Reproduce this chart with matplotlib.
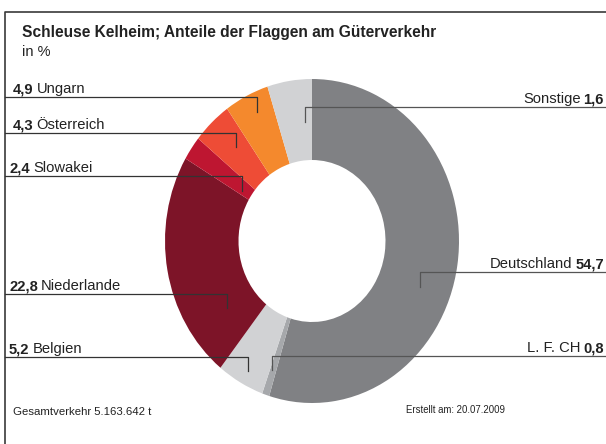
import matplotlib
matplotlib.use('Agg')
import matplotlib.pyplot as plt

plt.rcParams['font.family'] = ['Liberation Sans', 'DejaVu Sans']

# Slices clockwise from 12 o'clock, as drawn in the picture
names = ['Deutschland', 'L. F. CH', 'Belgien', 'Niederlande',
         'Slowakei', 'Österreich', 'Ungarn', 'Sonstige']
shares = [54.7, 0.8, 5.2, 22.8, 2.4, 4.3, 4.9, 4.9]
# numbers printed on the labels
label_values = ['54,7', '0,8', '5,2', '22,8', '2,4', '4,3', '4,9', '1,6']
colors = ['#808184', '#a6a8ab', '#d1d2d4', '#7d1428',
          '#be1631', '#ee4c36', '#f4892d', '#d1d2d4']

W, H = 606, 444
fig = plt.figure(figsize=(W / 100, H / 100), dpi=100)

# donut (slightly taller than wide, like the reference)
cx, cy, rx, ry = 312, 241, 147, 162
pax = fig.add_axes([(cx - rx) / W, (H - cy - ry) / H, 2 * rx / W, 2 * ry / H])
pax.pie(shares, colors=colors, startangle=90, counterclock=False, radius=1,
        wedgeprops=dict(width=0.5, linewidth=0))
pax.set_aspect('auto')
pax.set_xlim(-1, 1)
pax.set_ylim(-1, 1)
pax.set_zorder(1)

# overlay in pixel coordinates for frame, text and leader lines
ax = fig.add_axes([0, 0, 1, 1])
ax.set_xlim(0, W)
ax.set_ylim(H, 0)
ax.axis('off')
ax.patch.set_visible(False)
ax.set_zorder(2)

ax.plot([5, 5, W], [H, 12, 12], color='#3a3a3a', lw=1.2, solid_capstyle='butt')

ax.text(22, 37, 'Schleuse Kelheim; Anteile der Flaggen am Güterverkehr',
        fontsize=11.2, fontweight='bold', color='#222222')
ax.text(22, 56, 'in %', fontsize=10.5, color='#222222')

# leader layout: (side, line y, tick x, tick bottom, text x)
leaders = {
    'Ungarn': ('left', 97, 257, 112, 13),
    'Österreich': ('left', 133, 236, 147, 13),
    'Slowakei': ('left', 176, 242, 191, 10),
    'Niederlande': ('left', 294, 227, 308, 9),
    'Belgien': ('left', 357, 248, 371, 9),
    'Sonstige': ('right', 107, 305, 122, 604),
    'Deutschland': ('right', 272, 420, 287, 604),
    'L. F. CH': ('right', 356, 272, 370, 604),
}
fs = 10.6

for name, val in zip(names, label_values):
    side, ly, tx, tb, xt = leaders[name]
    lc = '#333333' if side == 'left' else '#555555'
    if side == 'left':
        ax.plot([5, tx, tx], [ly, ly, tb], color=lc, lw=0.9)
        t = ax.text(xt, ly - 4, val, fontsize=fs, fontweight='bold',
                    color='#222222', va='baseline')
        fig.canvas.draw()
        bb = t.get_window_extent()
        ax.text(xt + bb.width + 3, ly - 4, name, fontsize=fs, color='#222222',
                va='baseline')
    else:
        ax.plot([W, tx, tx], [ly, ly, tb], color=lc, lw=0.9)
        t = ax.text(xt, ly - 4, val, fontsize=fs, fontweight='bold',
                    color='#222222', va='baseline', ha='right')
        fig.canvas.draw()
        bb = t.get_window_extent()
        ax.text(xt - bb.width - 3, ly - 4, name, fontsize=fs, color='#222222',
                va='baseline', ha='right')

ax.text(13, 415, 'Gesamtverkehr 5.163.642 t', fontsize=8.2, color='#222222',
        va='baseline')
ax.text(505, 413, 'Erstellt am: 20.07.2009', fontsize=6.9, color='#222222',
        va='baseline', ha='right')

fig.savefig('out.png', dpi=100)
